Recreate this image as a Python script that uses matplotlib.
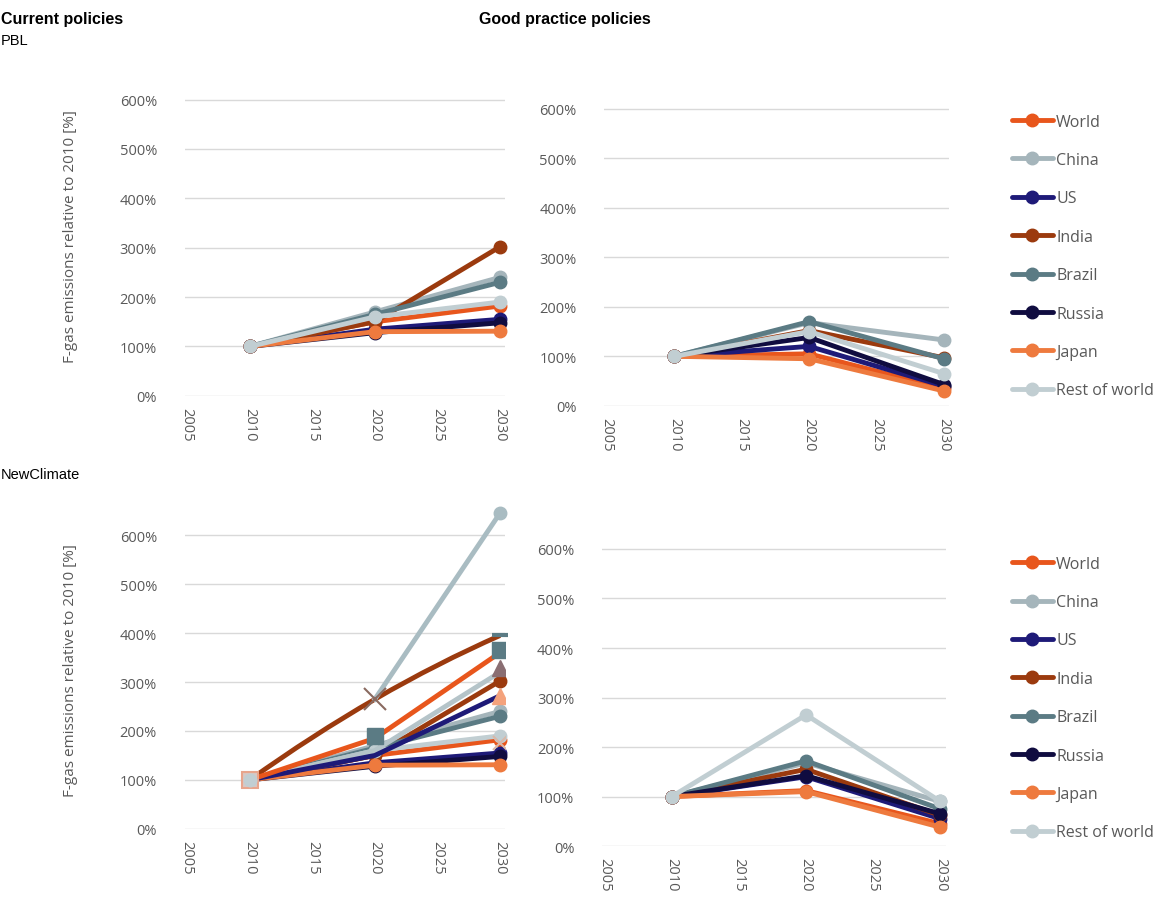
import numpy as np
import matplotlib
matplotlib.use("Agg")
from matplotlib import pyplot as plt
from matplotlib.path import Path
from matplotlib.patches import PathPatch

plt.rcParams.update({
    "font.family": ["Open Sans", "DejaVu Sans"],
    "font.size": 10})

years = [2010, 2020, 2030]
regions = ["World", "China", "US", "India", "Brazil", "Russia", "Japan", "Rest of world"]
colors = ["#E8561C", "#A5B5BB", "#1E1A78", "#9B3A0E", "#5B7B84", "#100C40", "#EE7A3E", "#C1CED2"]

# PBL, relative to 2010 [%]
pbl_current = {
    "World": [100, 150, 182],
    "China": [100, 170, 240],
    "US": [100, 135, 155],
    "India": [100, 150, 302],
    "Brazil": [100, 165, 230],
    "Russia": [100, 128, 148],
    "Japan": [100, 130, 131],
    "Rest of world": [100, 160, 190],
}
pbl_good = {
    "World": [100, 105, 35],
    "China": [100, 168, 133],
    "US": [100, 120, 40],
    "India": [100, 152, 97],
    "Brazil": [100, 170, 95],
    "Russia": [100, 138, 43],
    "Japan": [100, 95, 30],
    "Rest of world": [100, 150, 65],
}
# NewClimate good practice
nc_good = {
    "World": [100, 112, 45],
    "China": [100, 168, 90],
    "US": [100, 140, 55],
    "India": [100, 155, 62],
    "Brazil": [100, 172, 75],
    "Russia": [100, 142, 65],
    "Japan": [100, 110, 38],
    "Rest of world": [100, 265, 90],
}
# NewClimate current policy estimates drawn on top of the PBL lines
nc_india = [100, 265, 395]
nc_china = [265, 645]
nc_world = [100, 185, 360]
nc_brazil_sq = [190, 365]
nc_grey = [100, 160, 320]
nc_tri_dark = 328
nc_navy = [100, 150, 272]
nc_tri_light = 272
nc_x_light = 175

grid_c = "#D9D9D9"
text_c = "#595959"


def style(ax, ylabel=False):
    ax.set_xlim(2004.8, 2030.4)
    ax.set_ylim(0, 650)
    ax.set_yticks(range(0, 601, 100))
    ax.set_yticklabels([f"{v}%" for v in range(0, 601, 100)])
    ax.set_xticks(range(2005, 2031, 5))
    ax.set_xticklabels([str(v) for v in range(2005, 2031, 5)], rotation=-90)
    for s in ax.spines.values():
        s.set_visible(False)
    ax.grid(axis="y", color=grid_c, lw=1)
    ax.set_axisbelow(True)
    ax.tick_params(length=0, colors=text_c, labelsize=10.5, pad=8)
    ax.tick_params(axis="y", pad=20)
    if ylabel:
        ax.set_ylabel("F-gas emissions relative to 2010 [%]", color=text_c,
                      fontsize=11, labelpad=30)


def draw(ax, data):
    for name, c in zip(regions, colors):
        ax.plot(years, data[name], color=c, lw=3.5, marker="o", ms=9,
                solid_capstyle="round", label=name, clip_on=False)


fig = plt.figure(figsize=(11.69, 9.04), dpi=100)
ax1 = fig.add_axes([0.158, 0.561, 0.274, 0.355])
ax2 = fig.add_axes([0.517, 0.550, 0.295, 0.356])
ax3 = fig.add_axes([0.158, 0.082, 0.274, 0.352])
ax4 = fig.add_axes([0.515, 0.063, 0.294, 0.356])

for ax, yl in [(ax1, True), (ax2, False), (ax3, True), (ax4, False)]:
    style(ax, yl)

draw(ax1, pbl_current)
draw(ax2, pbl_good)
draw(ax4, nc_good)

# NewClimate current policies panel
draw(ax3, pbl_current)
ax3.plot(years[1:], nc_china, color="#A9BCC2", lw=3.5, marker="o", ms=9,
         markevery=[1], clip_on=False)
ax3.plot(years, nc_grey, color="#B5C4C9", lw=3.5)
ax3.plot(years, nc_navy, color="#1E1A78", lw=3.5)
ax3.plot(years, nc_world, color="#E8561C", lw=3.5)
ax3.plot(years[1:], nc_brazil_sq, color="#5B7B84", lw=0, marker="s", ms=12)
ax3.plot(years[2], nc_tri_dark, color="#8A6E72", marker="^", ms=12)
ax3.plot(years[2], nc_tri_light, color="#F4A27C", marker="^", ms=12)
ax3.plot(years[2], nc_x_light, color="#D9B8A8", marker="x", ms=10, mew=1.5)
ax3.plot(years[0], 100, color="#E8A58C", marker="s", ms=12, mfc="#D8C8C4", mew=1.5)
ax3.plot(years[0], 100, color="#C1CED2", marker="o", ms=9)
# smoothed India line: quadratic curve through the three points
p0 = np.array([years[0], nc_india[0]])
p1 = np.array([years[1], nc_india[1]])
p2 = np.array([years[2], nc_india[2]])
ctrl = 2 * p1 - (p0 + p2) / 2
curve = Path([p0, ctrl, p2], [Path.MOVETO, Path.CURVE3, Path.CURVE3])
ax3.add_patch(PathPatch(curve, fc="none", ec="#9B3A0E", lw=3.5, clip_on=False))
ax3.plot(years[1], nc_india[1], color="#8A6A60", marker="x", ms=16, mew=1.5)
ax3.plot(years[2], nc_india[2], color="#5B7B84", marker="_", ms=11, mew=3,
         clip_on=False)

# legends
handles, labels = ax2.get_legend_handles_labels()
for y in (0.889, 0.400):
    fig.legend(handles, labels, loc="upper left", bbox_to_anchor=(0.853, y),
               frameon=False, fontsize=11.5, labelspacing=1.4,
               handlelength=2.6, handletextpad=0.2, labelcolor=text_c)

fig.text(0.001, 0.987, "Current policies", fontsize=11.5, weight="bold",
         family="Liberation Sans", va="top")
fig.text(0.001, 0.962, "PBL", fontsize=10.5, family="Liberation Sans", va="top")
fig.text(0.41, 0.987, "Good practice policies", fontsize=11.5, weight="bold",
         family="Liberation Sans", va="top")
fig.text(0.001, 0.482, "NewClimate", fontsize=10.5, family="Liberation Sans",
         va="top")

fig.savefig("out.png", dpi=100)
